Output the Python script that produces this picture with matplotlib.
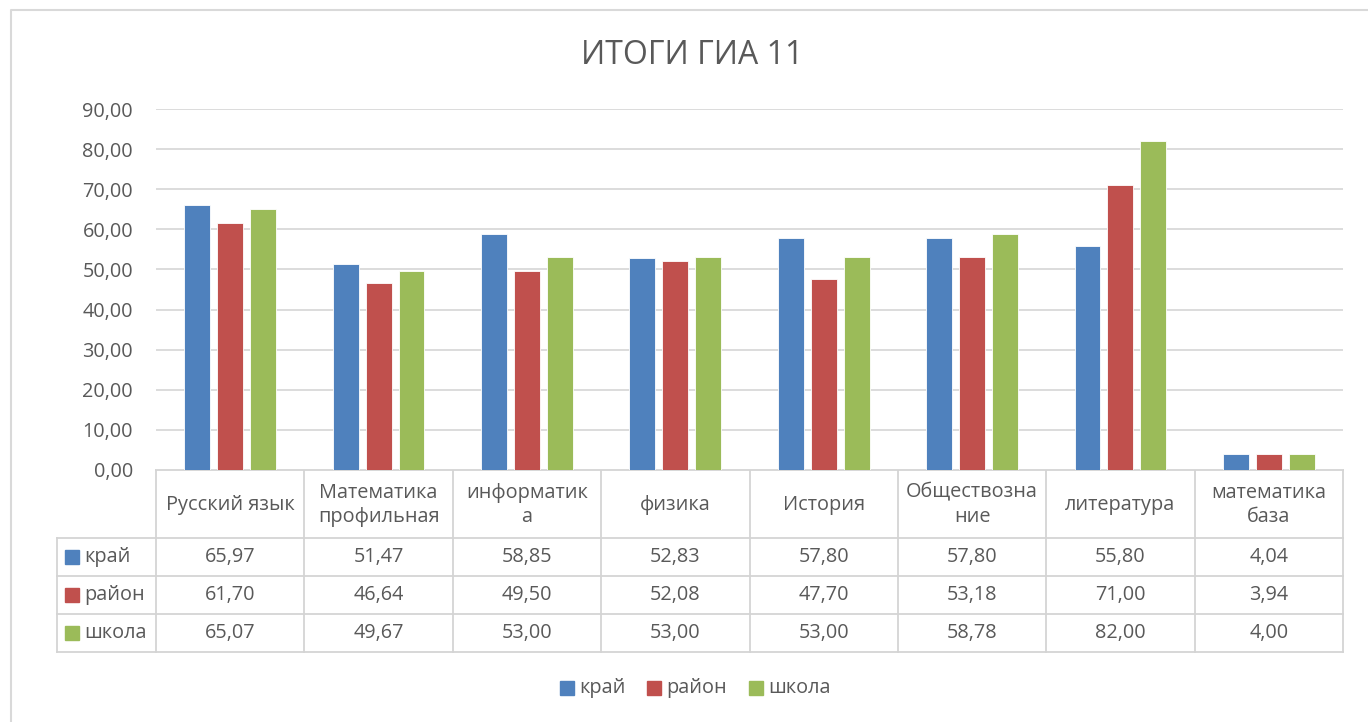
import matplotlib
matplotlib.use('Agg')
import matplotlib.pyplot as plt
import numpy as np

plt.rcParams['font.family'] = ['Open Sans', 'DejaVu Sans']

categories = ['Русский язык', 'Математика\nпрофильная', 'информатик\nа', 'физика',
              'История', 'Обществозна\nние', 'литература', 'математика\nбаза']
series_names = ['край', 'район', 'школа']
kray = [65.97, 51.47, 58.85, 52.83, 57.80, 57.80, 55.80, 4.04]
rayon = [61.70, 46.64, 49.50, 52.08, 47.70, 53.18, 71.00, 3.94]
shkola = [65.07, 49.67, 53.00, 53.00, 53.00, 58.78, 82.00, 4.00]
colors = ['#4f81bd', '#c0504d', '#9bbb59']
title = 'ИТОГИ ГИА 11'

W, H = 1368, 722
txt = '#595959'
grid_c = '#d9d9d9'
fs = 14.3

fig = plt.figure(figsize=(W/100, H/100), dpi=100)

# overlay in pixel coords for frame, table and legend
ov = fig.add_axes([0, 0, 1, 1])
ov.set_xlim(0, W)
ov.set_ylim(H, 0)
ov.axis('off')

# plot area
x0, x1, y0, y1 = 156, 1343, 470, 109
ax = fig.add_axes([x0/W, (H-y0)/H, (x1-x0)/W, (y0-y1)/H])
ax.set_xlim(-0.5, len(categories)-0.5)
ax.set_ylim(0, 90)
ax.set_yticks(np.arange(0, 91, 10))
ax.set_yticklabels([f'{v:.2f}'.replace('.', ',') for v in np.arange(0, 91, 10)],
                   fontsize=fs, color=txt)
ax.tick_params(axis='y', length=0, pad=16.5)
ax.set_xticks([])
for s in ax.spines.values():
    s.set_visible(False)
ax.grid(axis='y', color=grid_c, lw=1.3)
ax.set_axisbelow(True)
ax.patch.set_alpha(0)

xs = np.arange(len(categories))
bw = 0.175
for k, vals in enumerate([kray, rayon, shkola]):
    ax.bar(xs + (k-1)*0.222, vals, bw, color=colors[k], edgecolor='white', lw=0.6, zorder=3)

# outer frame
ov.plot([11, 11, W], [H, 10, 10], color=grid_c, lw=1.5)

# data table
cw = (x1 - x0) / len(categories)
rows = [470, 538, 576, 614, 652]
lc = '#d4d4d4'
ov.plot([x0, x1], [rows[0], rows[0]], color=lc, lw=1.3)
for r in rows[1:]:
    ov.plot([57, x1], [r, r], color=lc, lw=1.3)
ov.plot([57, 57], [rows[1], rows[-1]], color=lc, lw=1.3)
for i in range(len(categories)+1):
    ov.plot([x0+i*cw]*2, [rows[0], rows[-1]], color=lc, lw=1.3)

for i, c in enumerate(categories):
    ov.text(x0+(i+0.5)*cw, (rows[0]+rows[1])/2+1, c, ha='center', va='center',
            fontsize=fs, color=txt, linespacing=1.3)
for k, vals in enumerate([kray, rayon, shkola]):
    yc = (rows[k+1]+rows[k+2])/2
    ov.add_patch(plt.Rectangle((65, yc-7), 14, 14, color=colors[k]))
    ov.text(84, yc, series_names[k], ha='left', va='center', fontsize=fs, color=txt)
    for i, v in enumerate(vals):
        ov.text(x0+(i+0.5)*cw, yc, f'{v:.2f}'.replace('.', ','), ha='center',
                va='center', fontsize=fs, color=txt)

# legend
leg_x = [560, 647, 749]
for k, name in enumerate(series_names):
    ov.add_patch(plt.Rectangle((leg_x[k], 681), 14, 14, color=colors[k]))
    ov.text(leg_x[k]+19, 688, name, ha='left', va='center', fontsize=fs, color=txt)

ov.text(692, 55, title, ha='center', va='center', fontsize=23, color=txt)

fig.savefig('out.png', dpi=100)
